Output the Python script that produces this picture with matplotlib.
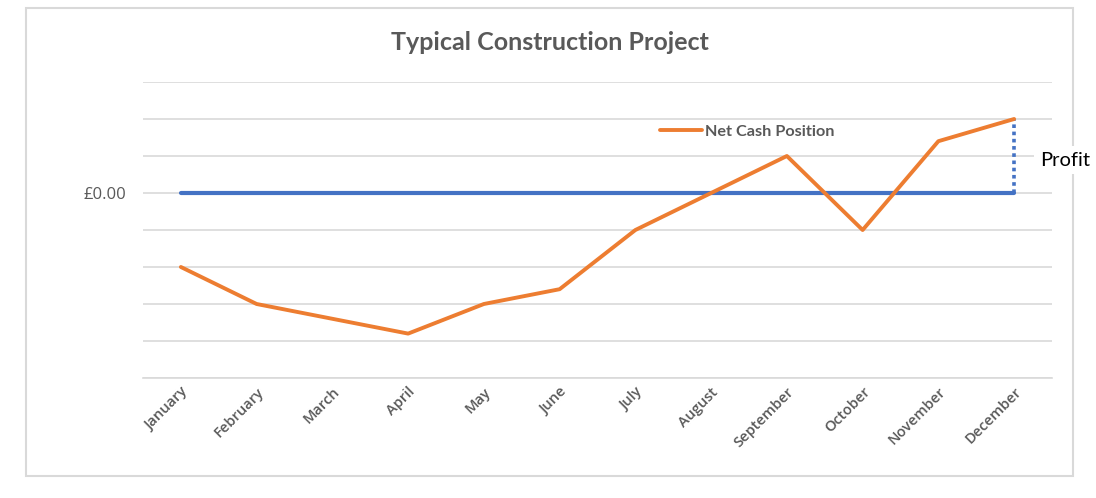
import matplotlib.pyplot as plt
from matplotlib.patches import Rectangle

months = ['January', 'February', 'March', 'April', 'May', 'June', 'July',
          'August', 'September', 'October', 'November', 'December']
net_cash = [-2, -3, -3.4, -3.8, -3, -2.6, -1, 0, 1, -1, 1.4, 2]
baseline = [0] * len(months)

orange = '#ED7D31'
blue = '#4472C4'
grey_text = '#595959'

fig = plt.figure(figsize=(10.96, 4.98), dpi=100)
ax = fig.add_axes([143 / 1096, 1 - 378 / 498, 909 / 1096, 296 / 498])

x = list(range(len(months)))
ax.plot(x, baseline, color=blue, linewidth=3, solid_capstyle='round', zorder=3)
line, = ax.plot(x, net_cash, color=orange, linewidth=2.8, solid_capstyle='round',
                label='Net Cash Position', zorder=4)
# profit marker between final position and zero
ax.vlines(x[-1], 0, net_cash[-1], colors=blue, linestyles=(0, (1, 1)), linewidth=2.6, zorder=2)

ax.set_xlim(-0.5, len(months) - 0.5)
ax.set_ylim(-5, 3)
ax.set_yticks(range(-5, 4))
ax.set_yticklabels(['£0.00' if v == 0 else '' for v in range(-5, 4)])
ax.grid(axis='y', color='#D9D9D9', linewidth=1.2)
ax.set_axisbelow(True)
for s in ['top', 'right', 'left']:
    ax.spines[s].set_visible(False)
ax.spines['bottom'].set_color('#D9D9D9')
ax.spines['bottom'].set_linewidth(1.2)
ax.tick_params(axis='both', length=0, colors=grey_text)
ax.tick_params(axis='y', pad=12, labelsize=12)
ax.tick_params(axis='x', pad=5)

ax.set_xticks(x)
ax.set_xticklabels(months, rotation=45, ha='right', va='top', rotation_mode='anchor',
                   fontsize=10.5, family='Open Sans', color=grey_text, fontweight='semibold')
for lbl in ax.get_yticklabels():
    lbl.set_family('Open Sans')

fig.text(0.502, 1 - 42 / 498, 'Typical Construction Project', ha='center', va='center',
         fontsize=18, fontweight='bold', family='Lato', color=grey_text)

leg = ax.legend(handles=[line], loc='center left', bbox_to_anchor=(645 / 1096, 1 - 132 / 498),
                bbox_transform=fig.transFigure, frameon=False, handlelength=2.6,
                handletextpad=0.2,
                prop={'family': 'Lato', 'weight': 'bold', 'size': 11.7})
for t in leg.get_texts():
    t.set_color(grey_text)

# outer chart border
fig.patches.append(Rectangle((26 / 1096, 1 - 476 / 498), 1047 / 1096, 468 / 498,
                             transform=fig.transFigure, fill=False,
                             edgecolor='#D9D9D9', linewidth=1.5))

fig.text(1040 / 1096, 1 - 160 / 498, 'Profit', ha='left', va='center', fontsize=14.5,
         family='Lato', color='black',
         bbox=dict(facecolor='white', edgecolor='none', pad=4))

fig.savefig('out.png', dpi=100)
